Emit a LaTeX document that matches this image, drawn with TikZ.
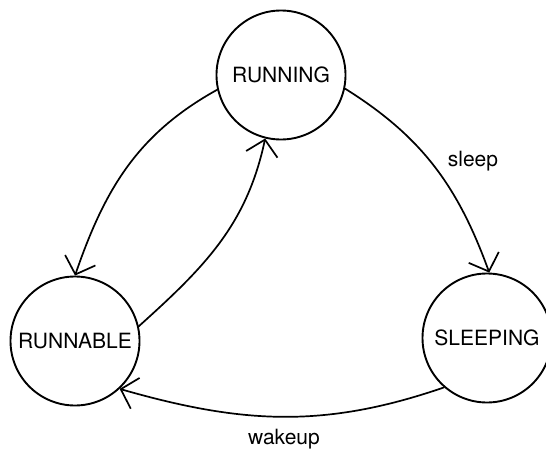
\documentclass[tikz,border=0pt]{standalone}
\usepackage{fontspec}
\setmainfont{TeX Gyre Heros}
\usepackage{tikz}
\usetikzlibrary{arrows.meta,positioning}

\tikzset{
  statenode/.style={draw,circle,line width=0.95pt,minimum size=64.5pt,inner sep=0pt,font=\fontsize{10.5}{12}\selectfont},
  trans/.style={line width=0.85pt,-{Straight Barb[length=7.5pt,width=16pt,line width=0.85pt]}},
  translabel/.style={font=\fontsize{10.5}{12}\selectfont}
}

\begin{document}
\begin{tikzpicture}[x=0.5pt,y=-0.5pt]
\useasboundingbox (0,0) rectangle (546,455);
\foreach \nm/\px/\py/\txt in {run/281/75/RUNNING,rbl/75/341/RUNNABLE,slp/487/338/SLEEPING}{
  \node[statenode] (\nm) at (\px,\py) {\txt};
}
\draw[trans] (run.193) to[out=209,in=71] (rbl.90);
\draw[trans] (rbl.13) to[out=42,in=258] (run.256);
\draw[trans] (run.348) to[out=328,in=110] (slp.88);
\draw[trans] (slp.229) to[out=199,in=344] (rbl.313);
\node[translabel] (lsleep) at (473,161) {sleep};
\node[translabel] (lwake) at (284,439) {wakeup};
\end{tikzpicture}
\end{document}
